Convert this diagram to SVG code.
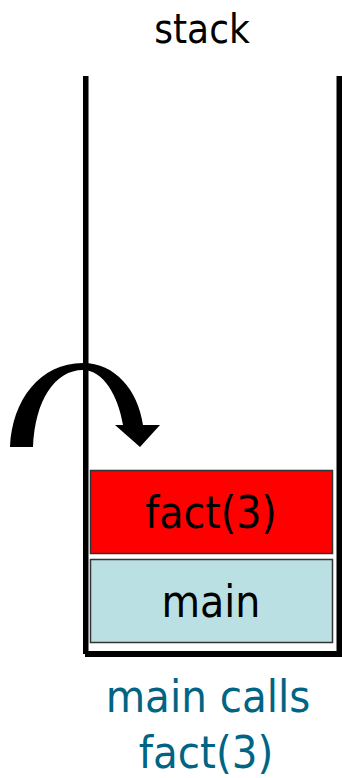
<svg xmlns="http://www.w3.org/2000/svg" width="342" height="778" viewBox="0 0 342 778">
<style>
text{font-family:"DejaVu Sans Condensed","DejaVu Sans","Liberation Sans",sans-serif;font-stretch:condensed;text-anchor:middle}
.frame{fill:#000}
.box{stroke:#333;stroke-width:1.5}
.lbl{font-size:44px;fill:#000}
.cap{font-size:45px;fill:#006585}
</style>
<rect width="342" height="778" fill="#fff"/>
<text x="202" y="43" style="font-size:40px" fill="#000">stack</text>
<g id="stack-frame">
<rect class="frame" x="83" y="76" width="5.5" height="578"/>
<rect class="frame" x="85" y="651" width="257" height="6"/>
<rect class="frame" x="336.5" y="76" width="5.5" height="581"/>
</g>
<g id="connectors">
<path d="M10,447 C12,400 40,363 83,363 C115,363 138,390 143,425 L160,425 L140,447 L115,425 L123,425 C118,395 103,370 83,370 C55,370 35,400 33,447 Z" fill="#000"/>
</g>
<g id="fact3">
<rect class="box" x="90.5" y="470.5" width="242" height="83" fill="#ff0000"/>
<text class="lbl" x="211" y="528">fact(3)</text>
</g>
<g id="main">
<rect class="box" x="90.5" y="559.5" width="242" height="83" fill="#bae0e3"/>
<text class="lbl" x="211" y="617">main</text>
</g>
<g id="caption">
<text class="cap" x="208" y="712">main calls</text>
<text class="cap" x="206" y="768">fact(3)</text>
</g>
</svg>
